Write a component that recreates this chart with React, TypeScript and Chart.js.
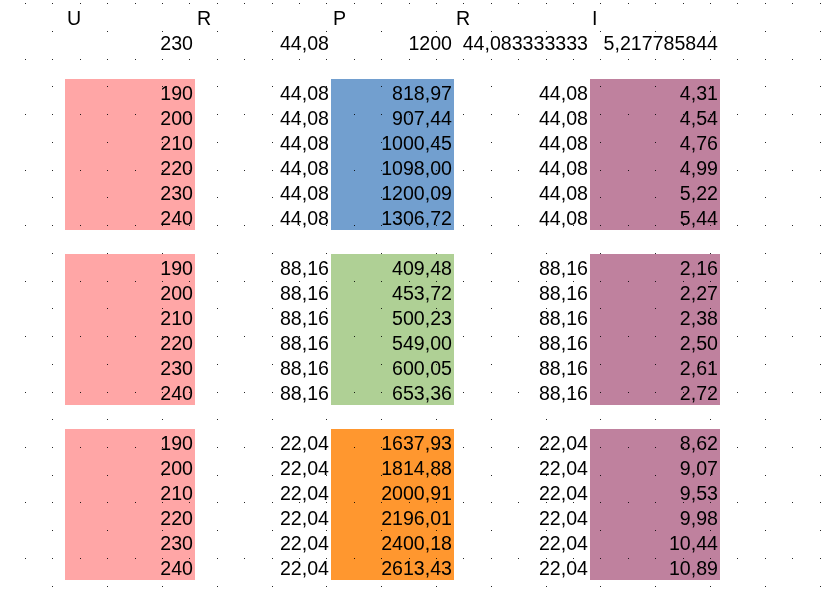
import React, { useEffect, useRef } from "react";
import { Chart, registerables } from "chart.js";

Chart.register(...registerables);

// ---- data ----
const HEADERS = ["U", "R", "P", "R", "I"];
const SUMMARY = ["230", "44,08", "1200", "44,083333333", "5,217785844"];
const U_VALUES = [190, 200, 210, 220, 230, 240];
const R_VALUES = [44.08, 88.16, 22.04];
const P_GROUP_1 = [818.97, 907.44, 1000.45, 1098.0, 1200.09, 1306.72];
const P_GROUP_2 = [409.48, 453.72, 500.23, 549.0, 600.05, 653.36];
const P_GROUP_3 = [1637.93, 1814.88, 2000.91, 2196.01, 2400.18, 2613.43];
const I_GROUP_1 = [4.31, 4.54, 4.76, 4.99, 5.22, 5.44];
const I_GROUP_2 = [2.16, 2.27, 2.38, 2.5, 2.61, 2.72];
const I_GROUP_3 = [8.62, 9.07, 9.53, 9.98, 10.44, 10.89];
const P_GROUPS = [P_GROUP_1, P_GROUP_2, P_GROUP_3];
const I_GROUPS = [I_GROUP_1, I_GROUP_2, I_GROUP_3];

// ---- layout & style ----
const W = 822;
const H = 600;
const COL_EDGES = [65, 195, 331, 454, 590, 720]; // sheet columns B..F
const ROW_H = 25;
const ROW_TOP0 = 4;
const Y_MIN = -ROW_TOP0 / ROW_H;
const Y_MAX = Y_MIN + H / ROW_H;
const GROUP_START = [3, 10, 17];
const BASELINE = 0.82;
const PAD = 2;
const FONT = '19.6px "Liberation Sans", Arial, sans-serif';
const U_COLOR = "#ffa6a6";
const P_COLORS = ["#729fcf", "#afd095", "#ff972f"];
const I_COLOR = "#bf819e";
const DOT_X0 = 25;
const DOT_DX = 27.4;
const DOT_Y0 = 3.3;
const DOT_DY = 27.73;

const fmt2 = (v: number) => v.toFixed(2).replace(".", ",");
const colCenter = (c: number) => (COL_EDGES[c] + COL_EDGES[c + 1]) / 2;
const colWidth = (c: number) => COL_EDGES[c + 1] - COL_EDGES[c];

function blockData(col: number) {
  return GROUP_START.map((s) => ({ x: colCenter(col), y: [s, s + U_VALUES.length + 0.04] }));
}

const sheetPlugin = {
  id: "sheet",
  afterDatasetsDraw(chart: any) {
    const ctx = chart.ctx;
    const xs = chart.scales.x;
    const ys = chart.scales.y;
    ctx.save();
    // page grid dots
    ctx.fillStyle = "rgba(0,0,0,0.85)";
    let ri = 0;
    for (let py = DOT_Y0; py < H; py += DOT_DY, ri++) {
      let ci = 0;
      for (let px = DOT_X0; px < W; px += DOT_DX, ci++) {
        if (ri % 2 === 1 && ci % 2 === 0) continue;
        ctx.fillRect(Math.round(xs.getPixelForValue(px)), Math.round(py), 1, 1);
      }
    }
    // cell texts
    ctx.font = FONT;
    ctx.fillStyle = "#000";
    ctx.textBaseline = "alphabetic";
    const left = (c: number) => xs.getPixelForValue(COL_EDGES[c] + PAD);
    const right = (c: number) => xs.getPixelForValue(COL_EDGES[c + 1] - PAD);
    const rowY = (r: number) => ys.getPixelForValue(r + BASELINE);
    ctx.textAlign = "left";
    HEADERS.forEach((h, c) => ctx.fillText(h, left(c), rowY(0)));
    ctx.textAlign = "right";
    SUMMARY.forEach((s, c) => ctx.fillText(s, right(c), rowY(1)));
    GROUP_START.forEach((start, g) => {
      U_VALUES.forEach((u, i) => {
        const r = start + i;
        const cells = [
          String(u),
          fmt2(R_VALUES[g]),
          fmt2(P_GROUPS[g][i]),
          fmt2(R_VALUES[g]),
          fmt2(I_GROUPS[g][i]),
        ];
        cells.forEach((t, c) => ctx.fillText(t, right(c), rowY(r)));
      });
    });
    ctx.restore();
  },
};

export default function App() {
  const ref = useRef<HTMLCanvasElement | null>(null);
  useEffect(() => {
    if (!ref.current) return;
    const chart = new Chart(ref.current, {
      type: "bar",
      data: {
        datasets: [
          {
            label: "U",
            data: blockData(0) as any,
            backgroundColor: U_COLOR,
            barThickness: colWidth(0),
            grouped: false,
            borderWidth: 0,
            inflateAmount: 0,
          },
          {
            label: "P",
            data: blockData(2) as any,
            backgroundColor: P_COLORS,
            barThickness: colWidth(2),
            grouped: false,
            borderWidth: 0,
            inflateAmount: 0,
          },
          {
            label: "I",
            data: blockData(4) as any,
            backgroundColor: I_COLOR,
            barThickness: colWidth(4),
            grouped: false,
            borderWidth: 0,
            inflateAmount: 0,
          },
        ],
      },
      options: {
        animation: false,
        responsive: false,
        devicePixelRatio: 1,
        events: [],
        layout: { padding: 0 },
        plugins: { legend: { display: false }, tooltip: { enabled: false }, title: { display: false } },
        scales: {
          x: { type: "linear", min: 0, max: W, offset: false, display: false, grid: { offset: false } },
          y: { type: "linear", min: Y_MIN, max: Y_MAX, reverse: true, display: false },
        },
      } as any,
      plugins: [sheetPlugin],
    });
    return () => chart.destroy();
  }, []);
  return (
    <div style={{ position: "absolute", left: 0, top: 0, width: W, height: H, background: "#fff" }}>
      <canvas ref={ref} width={W} height={H} style={{ display: "block" }} />
    </div>
  );
}
